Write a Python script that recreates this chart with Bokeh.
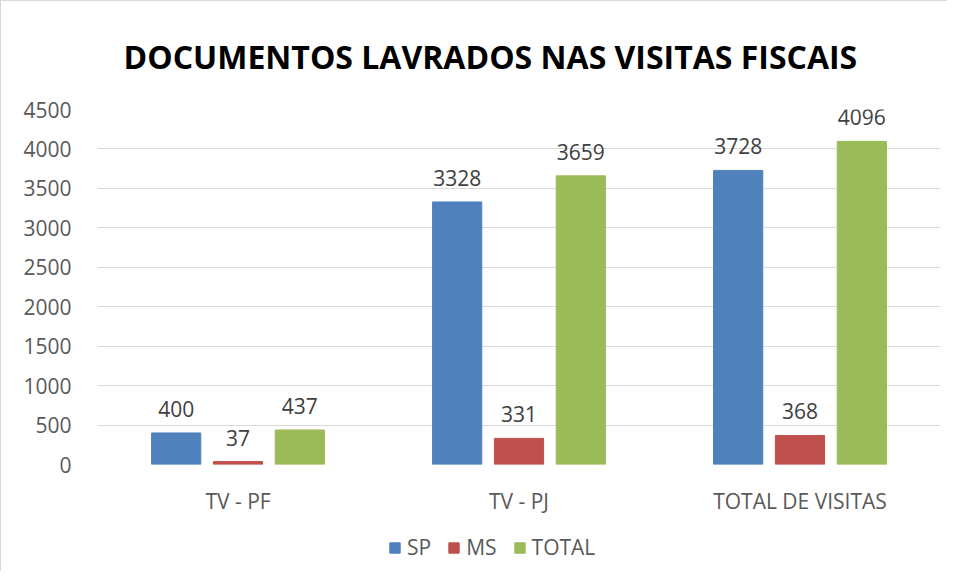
from bokeh.plotting import figure
from bokeh.layouts import column
from bokeh.models import ColumnDataSource, FactorRange, Legend, LegendItem, SingleIntervalTicker
from bokeh.transform import dodge
from bokeh.core.properties import value
from bokeh.embed import file_html
from bokeh.resources import INLINE

categories = ["TV - PF", "TV - PJ", "TOTAL DE VISITAS"]
series_names = ["SP", "MS", "TOTAL"]
sp_values = [400, 3328, 3728]
ms_values = [37, 331, 368]
total_values = [437, 3659, 4096]
colors = ["#4F81BD", "#C0504D", "#9BBB59"]
title_text = "DOCUMENTOS LAVRADOS NAS VISITAS FISCAIS"

src = ColumnDataSource(dict(
    cat=categories,
    SP=sp_values, MS=ms_values, TOTAL=total_values,
    SP_l=[str(v) for v in sp_values],
    MS_l=[str(v) for v in ms_values],
    TOTAL_l=[str(v) for v in total_values],
))

FONT = "Open Sans"
GRAY = "#595959"

p = figure(x_range=FactorRange(*categories), y_range=(0, 4500),
           frame_width=842, frame_height=354, output_backend="svg", toolbar_location=None,
           title=title_text,
           min_border_left=96, min_border_right=8, min_border_top=108, min_border_bottom=58)
p.outline_line_color = None
p.background_fill_color = "white"
p.border_fill_color = "white"
p.styles = {"border-left": "1px solid #D9D9D9", "border-top": "1px solid #D9D9D9"}
p.title.align = "left"
p.title.text_font = FONT
p.title.text_font_size = "32px"
p.title.text_font_style = "bold"
p.title.text_color = "black"
p.title.standoff = 63
p.title.offset = 26

offsets = [-0.22, 0.0, 0.22]
for name, off, col in zip(series_names, offsets, colors):
    p.vbar(x=dodge("cat", off, range=p.x_range), top=name, width=0.175, source=src,
           fill_color=col, line_color=col)
    p.text(x=dodge("cat", off, range=p.x_range), y=name, text=name + "_l", source=src,
           text_align="center", text_baseline="alphabetic", y_offset=-24,
           text_font=value(FONT), text_font_size="21px", text_color="#404040")

p.yaxis.ticker = SingleIntervalTicker(interval=500)
p.ygrid.grid_line_color = "#D9D9D9"
p.ygrid.grid_line_width = 1
p.xgrid.grid_line_color = None
for ax in (p.xaxis, p.yaxis):
    ax.axis_line_color = None
    ax.major_tick_line_color = None
    ax.minor_tick_line_color = None
    ax.major_tick_out = 0
    ax.major_tick_in = 0
    ax.major_label_text_font = FONT
    ax.major_label_text_color = GRAY
p.yaxis.major_label_text_font_size = "21px"
p.yaxis.major_label_standoff = 22
p.xaxis.major_label_text_font_size = "21px"
p.xaxis.major_label_standoff = 22

# legend strip below the chart (its bars fall outside its own 0..1 range, only the legend shows)
lg = figure(x_range=(0, 1), y_range=(0, 1), frame_width=946, frame_height=50,
            output_backend="svg", toolbar_location=None, min_border=0,
            x_axis_location=None, y_axis_location=None)
lg.outline_line_color = None
lg.grid.visible = False
lg.styles = {"border-left": "1px solid #D9D9D9"}
items = []
for name, col in zip(series_names, colors):
    r = lg.vbar(x=name, top=name, width=0.1, source=src, fill_color=col, line_color=col)
    items.append(LegendItem(label=name, renderers=[r]))
legend = Legend(items=items, orientation="horizontal", location=(387, 10),
                glyph_width=13, glyph_height=13, label_text_font=FONT, label_text_font_size="21px",
                label_text_color=GRAY, border_line_color=None, background_fill_alpha=0,
                padding=0, margin=0, spacing=16, label_standoff=6)
lg.add_layout(legend, "center")

layout = column(p, lg, spacing=0)
open("out.html", "w").write(file_html(layout, INLINE))
